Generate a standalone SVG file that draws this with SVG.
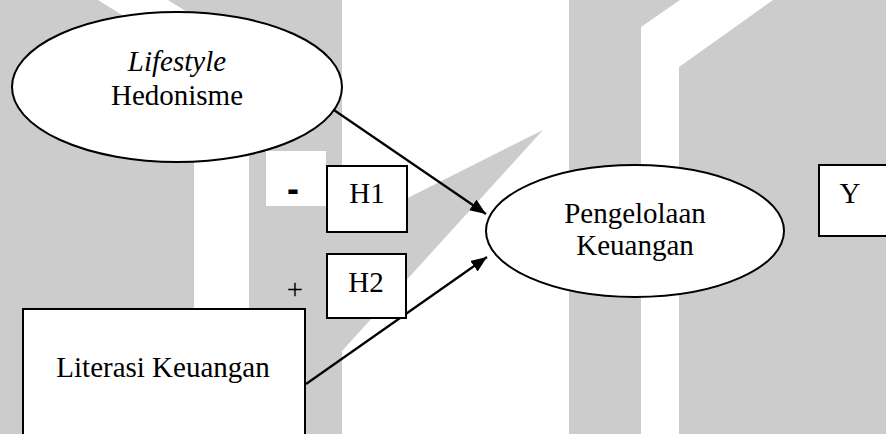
<svg xmlns="http://www.w3.org/2000/svg" width="886" height="434" viewBox="0 0 886 434">
  <style>
    .wm { fill: #cccccc; stroke: none; }
    .node { fill: #ffffff; stroke: #000000; stroke-width: 2; }
    .t { font-family: "Liberation Serif", "Times New Roman", serif; font-size: 29px; fill: #000000; text-anchor: middle; }
    .it { font-style: italic; }
    .conn { stroke: #000000; stroke-width: 2.2; fill: none; marker-end: url(#arrow); }
  </style>
  <defs>
    <marker id="arrow" markerUnits="userSpaceOnUse" markerWidth="18" markerHeight="14" refX="16" refY="6.5" orient="auto">
      <path d="M0,0 L16,6.5 L0,13 Z" fill="#000000"/>
    </marker>
  </defs>
  <rect x="0" y="0" width="886" height="434" fill="#ffffff"/>
  <g id="watermark">
    <polygon class="wm" points="0,0 342,0 342,434 249,434 249,100 194,100 194,434 0,434"/>
    <polygon fill="#ffffff" points="98,0 168,0 192,15 122,15"/>
    <polygon class="wm" points="342,231 543,130 342,351"/>
    <polygon class="wm" points="569,0 680,0 641,27 641,434 569,434"/>
    <polygon class="wm" points="679,67 773,0 886,0 886,434 679,434"/>
  </g>
  <g id="connectors">
    <line class="conn" x1="331" y1="108" x2="486" y2="214"/>
    <line class="conn" x1="306" y1="384" x2="487" y2="257"/>
  </g>
  <g id="lifestyle-hedonisme">
    <ellipse class="node" cx="177" cy="87" rx="165" ry="75"/>
    <text class="t it" x="177" y="71">Lifestyle</text>
    <text class="t" x="177" y="105">Hedonisme</text>
  </g>
  <g id="pengelolaan-keuangan">
    <ellipse class="node" cx="635" cy="231" rx="149" ry="66"/>
    <text class="t" x="635" y="223">Pengelolaan</text>
    <text class="t" x="635" y="255">Keuangan</text>
  </g>
  <g id="literasi-keuangan">
    <rect class="node" x="23" y="309" width="282" height="150"/>
    <text class="t" x="163" y="377">Literasi Keuangan</text>
  </g>
  <g id="h1">
    <rect class="node" x="327" y="166" width="80" height="66"/>
    <text class="t" x="367" y="203">H1</text>
  </g>
  <g id="h2">
    <rect class="node" x="327" y="254" width="79" height="64"/>
    <text class="t" x="366" y="292">H2</text>
  </g>
  <g id="y">
    <rect class="node" x="819" y="165" width="80" height="71"/>
    <text class="t" x="850" y="203">Y</text>
  </g>
  <g id="minus">
    <rect x="266" y="151" width="60" height="55" fill="#ffffff"/>
    <text x="293" y="201" font-family="Liberation Sans, Arial, sans-serif" font-size="36" font-weight="bold" text-anchor="middle" fill="#000000">-</text>
  </g>
  <g id="plus">
    <text class="t" x="295" y="299">+</text>
  </g>
</svg>
